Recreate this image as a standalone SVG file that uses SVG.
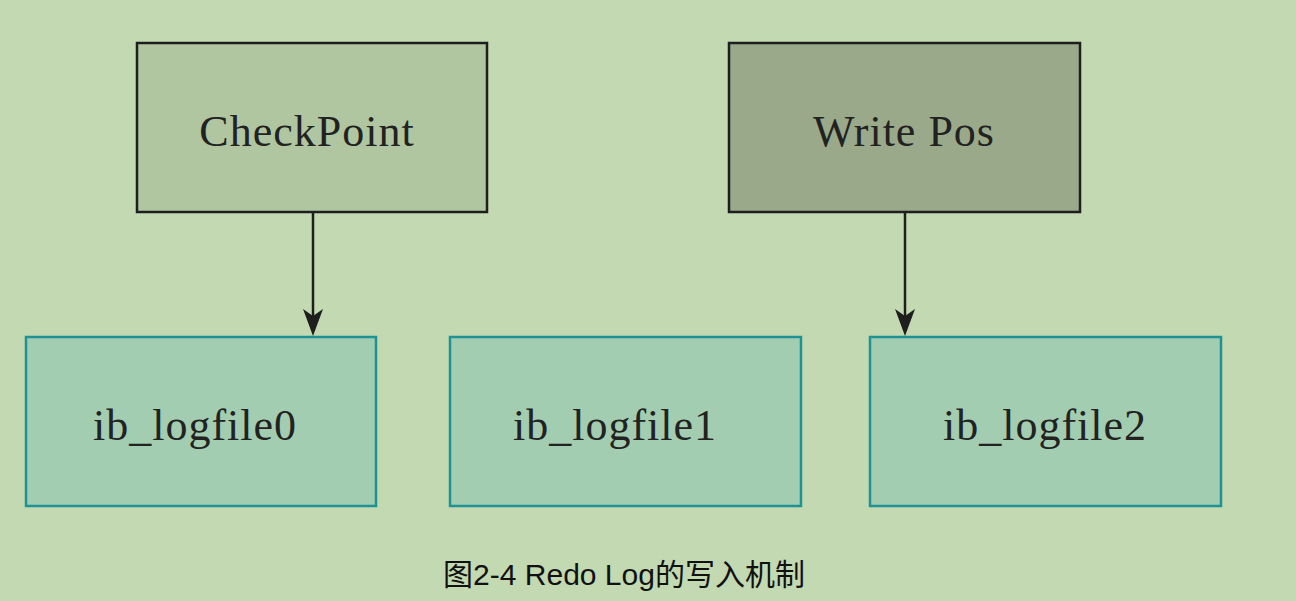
<svg xmlns="http://www.w3.org/2000/svg" width="1296" height="601" viewBox="0 0 1296 601">
<style>
.lbl{font-family:"Liberation Serif","Times New Roman",serif;font-size:44px;letter-spacing:1px;fill:#222;text-anchor:middle}
.top{stroke:#1e1e1e;stroke-width:2.5}
.file{fill:#a3cdb0;stroke:#1f9294;stroke-width:2.5}
.edge{stroke:#1e1e1e;stroke-width:2.5;fill:none}
.cap{font-family:"Liberation Sans",Arial,"Noto Sans CJK SC",sans-serif;font-size:30px;fill:#111;text-anchor:middle}
</style>
<rect width="1296" height="601" fill="#c3d9b1"/>
<g id="checkpoint">
<rect class="top" x="137" y="43" width="350" height="169" fill="#b0c6a0"/>
<text class="lbl" x="307" y="146">CheckPoint</text>
</g>
<g id="writepos">
<rect class="top" x="729" y="43" width="351" height="169" fill="#99a98a"/>
<text class="lbl" x="904" y="146">Write Pos</text>
</g>
<g id="ib_logfile0">
<rect class="file" x="26" y="337" width="350" height="169"/>
<text class="lbl" x="195" y="440">ib_logfile0</text>
</g>
<g id="ib_logfile1">
<rect class="file" x="450" y="337" width="351" height="169"/>
<text class="lbl" x="615" y="440">ib_logfile1</text>
</g>
<g id="ib_logfile2">
<rect class="file" x="870" y="337" width="351" height="169"/>
<text class="lbl" x="1045" y="440">ib_logfile2</text>
</g>
<g id="connectors">
<path class="edge" d="M313,212 L313,320"/>
<path d="M303,309 L313,316 L323,309 L313,336 Z" fill="#1e1e1e"/>
<path class="edge" d="M905,212 L905,320"/>
<path d="M895,309 L905,316 L915,309 L905,336 Z" fill="#1e1e1e"/>
</g>
<text class="cap" x="624" y="585">图2-4 Redo Log的写入机制</text>
</svg>
